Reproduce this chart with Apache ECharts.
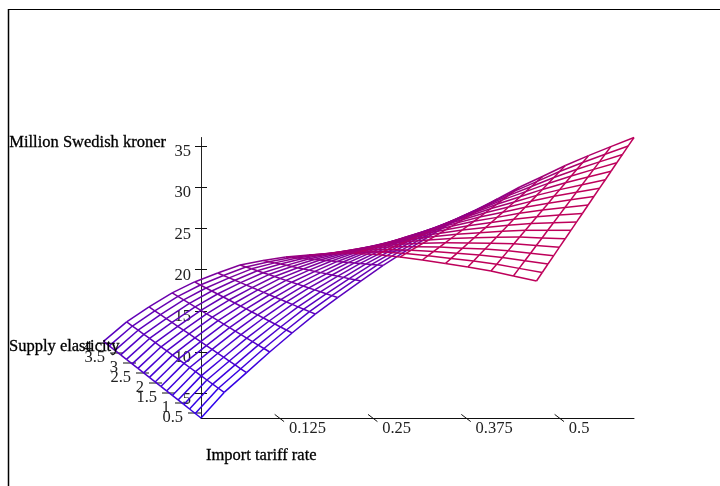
<!DOCTYPE html>
<html><head><meta charset="utf-8">
<style>html,body{margin:0;padding:0;background:#fff}#c{width:720px;height:486px}</style>
<script src="https://cdn.jsdelivr.net/npm/echarts@6/dist/echarts.min.js"></script>
</head><body><div id="c"></div>
<script>
const tariffRates=[0.02,0.051,0.081,0.112,0.142,0.173,0.203,0.234,0.264,0.295,0.325,0.356,0.386,0.417,0.447,0.478,0.508,0.539,0.569,0.6];
const elasticities=[0.25,0.471,0.691,0.912,1.132,1.353,1.574,1.794,2.015,2.235,2.456,2.676,2.897,3.118,3.338,3.559,3.779,4];
const zTicks=[5,10,15,20,25,30,35];
const tariffTicks=[0.125,0.25,0.375,0.5];
const elasticityTicks=[0.5,1,1.5,2,2.5,3,3.5,4];
const row00=[2.00,5.10,7.50,10.00,12.30,14.60,16.60,18.60,20.50,22.30,24.00,25.70,27.10,28.55,30.00,31.30,32.60,33.80,34.90,36.00];
const row01=[2.01,5.07,7.43,9.89,12.13,14.36,16.30,18.21,20.02,21.73,23.34,24.94,26.25,27.60,28.94,30.14,31.34,32.44,33.44,34.44];
const row02=[2.02,5.04,7.37,9.77,11.96,14.12,15.99,17.82,19.55,21.17,22.69,24.19,25.41,26.65,27.89,28.99,30.08,31.09,31.98,32.88];
const row03=[2.04,5.00,7.30,9.66,11.79,13.87,15.69,17.44,19.07,20.60,22.03,23.43,24.56,25.70,26.83,27.83,28.83,29.73,30.53,31.33];
const row04=[2.05,4.97,7.23,9.55,11.62,13.63,15.39,17.05,18.60,20.03,21.37,22.67,23.72,24.75,25.78,26.67,27.57,28.37,29.07,29.77];
const row05=[2.06,4.94,7.17,9.43,11.45,13.39,15.09,16.66,18.12,19.46,20.72,21.92,22.87,23.81,24.72,25.51,26.31,27.01,27.61,28.21];
const row06=[2.07,4.91,7.10,9.32,11.28,13.15,14.78,16.27,17.65,18.90,20.06,21.16,22.02,22.86,23.67,24.36,25.05,25.66,26.15,26.65];
const row07=[2.08,4.88,7.03,9.21,11.11,12.90,14.48,15.88,17.17,18.33,19.40,20.40,21.18,21.91,22.61,23.20,23.79,24.30,24.70,25.10];
const row08=[2.09,4.85,6.97,9.09,10.94,12.66,14.18,15.49,16.70,17.76,18.75,19.65,20.33,20.96,21.56,22.04,22.53,22.94,23.24,23.54];
const row09=[2.11,4.81,6.90,8.98,10.76,12.42,13.87,15.11,16.22,17.20,18.09,18.89,19.49,20.01,20.50,20.89,21.28,21.59,21.78,21.98];
const row10=[2.12,4.78,6.84,8.87,10.59,12.18,13.57,14.72,15.75,16.63,17.44,18.14,18.64,19.06,19.45,19.73,20.02,20.23,20.32,20.42];
const row11=[2.13,4.75,6.77,8.75,10.42,11.93,13.27,14.33,15.27,16.06,16.78,17.38,17.80,18.11,18.39,18.57,18.76,18.87,18.87,18.87];
const row12=[2.14,4.72,6.70,8.64,10.25,11.69,12.97,13.94,14.80,15.49,16.12,16.62,16.95,17.16,17.34,17.42,17.50,17.51,17.41,17.31];
const row13=[2.15,4.69,6.64,8.52,10.08,11.45,12.66,13.55,14.32,14.93,15.47,15.87,16.10,16.22,16.28,16.26,16.24,16.16,15.95,15.75];
const row14=[2.17,4.65,6.57,8.41,9.91,11.21,12.36,13.17,13.85,14.36,14.81,15.11,15.26,15.27,15.23,15.10,14.99,14.80,14.49,14.19];
const row15=[2.18,4.62,6.50,8.30,9.74,10.96,12.06,12.78,13.37,13.79,14.15,14.35,14.41,14.32,14.17,13.94,13.73,13.44,13.04,12.64];
const row16=[2.19,4.59,6.44,8.18,9.57,10.72,11.75,12.39,12.90,13.23,13.50,13.60,13.57,13.37,13.12,12.79,12.47,12.09,11.58,11.08];
const row17=[2.20,4.56,6.37,8.07,9.40,10.48,11.45,12.00,12.42,12.66,12.84,12.84,12.72,12.42,12.06,11.63,11.21,10.73,10.12,9.52];
const rows=[row00,row01,row02,row03,row04,row05,row06,row07,row08,row09,row10,row11,row12,row13,row14,row15,row16,row17];

const FONT='"Liberation Serif", serif';
const E0=0.25, Z0=2;
// oblique 3D view: the elasticity axis shifts a point left and up on the two value axes
const SHEAR_X=26/746.6, SHEAR_Z=20/8.25;
function project(api,t,e,z){
  return api.coord([t-(e-E0)*SHEAR_X, z+(e-E0)*SHEAR_Z]);
}
function wireColor(t,e,boost){
  let f=1.7*(t-0.02)+0.3*(e-0.25)/3.75+boost;
  f=Math.min(1,Math.max(0,f));
  return `rgb(${Math.round(40+150*f)},0,${Math.round(240-150*f)})`;
}
const segments=[];
rows.forEach((r,j)=>r.forEach((z,k)=>{
  if(k<r.length-1) segments.push([tariffRates[k],elasticities[j],z,tariffRates[k+1],elasticities[j],r[k+1]]);
  if(j<rows.length-1) segments.push([tariffRates[k],elasticities[j],z,tariffRates[k],elasticities[j+1],rows[j+1][k]]);
}));

const chart=echarts.init(document.getElementById('c'),null,{renderer:'canvas'});
const axisText={fontFamily:FONT,fontSize:16.5,color:'#222'};
const headText={fontFamily:FONT,fontSize:16.5,color:'#000',textBorderColor:'#000',textBorderWidth:0.3};
chart.setOption({
  animation:false,backgroundColor:'#fff',
  grid:{left:201,top:137.5,width:433,height:280.5,containLabel:false},
  xAxis:{type:'value',min:0.02,max:0.6,
    name:'Import tariff rate',nameLocation:'start',nameGap:-5,
    nameTextStyle:{...headText,align:'left',verticalAlign:'top',padding:[29,0,0,0]},
    splitLine:{show:false},
    axisLine:{show:true,onZero:false,lineStyle:{color:'#111',width:1}},
    axisTick:{show:false},
    axisLabel:{...axisText,customValues:tariffTicks,align:'left',margin:2,padding:[0,0,0,9.5],
      formatter:v=>String(v)}},
  yAxis:[{type:'value',min:Z0,max:36,
    name:'Million Swedish kroner',nameLocation:'end',nameGap:-5,
    nameTextStyle:{...headText,align:'right',verticalAlign:'middle',padding:[0,35,0,0]},
    splitLine:{show:false},
    axisLine:{show:true,onZero:false,lineStyle:{color:'#222',width:1}},
    axisTick:{show:true,customValues:zTicks,length:6,lineStyle:{color:'#111'}},
    axisLabel:{...axisText,customValues:zTicks,margin:10,verticalAlign:'top',lineHeight:12,formatter:v=>String(v)}},
   {type:'value',min:Z0,max:36,position:'left',splitLine:{show:false},
    axisLine:{show:false,onZero:false},
    axisTick:{show:true,inside:true,customValues:zTicks,length:6,lineStyle:{color:'#111'}},
    axisLabel:{show:false}}],
  graphic:[
    {type:'line',shape:{x1:8.5,y1:9,x2:8.5,y2:486},style:{stroke:'#000',lineWidth:1.5},silent:true},
    {type:'line',shape:{x1:8,y1:9.5,x2:720,y2:9.5},style:{stroke:'#000',lineWidth:1.2},silent:true},
    {type:'text',x:9,y:347,style:{text:'Supply elasticity',font:'16.5px '+FONT,fill:'#000',stroke:'#000',lineWidth:0.3,textVerticalAlign:'middle'},silent:true,z:20}
  ],
  series:[
    {type:'custom',name:'Supply elasticity axis',coordinateSystem:'cartesian2d',silent:true,z:2,
      data:elasticityTicks.map(e=>[e]),
      renderItem:(p,api)=>{
        const e=api.value(0),c=project(api,0.02,e,Z0);
        return {type:'group',children:[
          {type:'line',shape:{x1:c[0]-6.5,y1:c[1],x2:c[0]+6.5,y2:c[1]},style:{stroke:'#111',lineWidth:1}},
          {type:'text',style:{x:c[0]-11.5,y:c[1]+5,text:String(e),textAlign:'right',textVerticalAlign:'middle',font:'16.5px '+FONT,fill:'#222'}}
        ]};
      }},
    {type:'custom',name:'Import tariff ticks',coordinateSystem:'cartesian2d',silent:true,z:2,
      data:tariffTicks.map(t=>[t]),
      renderItem:(p,api)=>{
        const c=api.coord([api.value(0),Z0]);
        return {type:'line',shape:{x1:c[0]-4.7,y1:c[1]-3.6,x2:c[0]+4.7,y2:c[1]+3.6},style:{stroke:'#111',lineWidth:1}};
      }},
    {type:'custom',name:'Surface',coordinateSystem:'cartesian2d',silent:true,z:3,
      data:segments,
      renderItem:(p,api)=>{
        const a=project(api,api.value(0),api.value(1),api.value(2));
        const b=project(api,api.value(3),api.value(4),api.value(5));
        const alongE=api.value(0)===api.value(3);
        return {type:'line',shape:{x1:a[0],y1:a[1],x2:b[0],y2:b[1]},
          style:{stroke:wireColor((api.value(0)+api.value(3))/2,(api.value(1)+api.value(4))/2,alongE?0.08:0),lineWidth:1.5}};
      }}
  ]
});
</script></body></html>
